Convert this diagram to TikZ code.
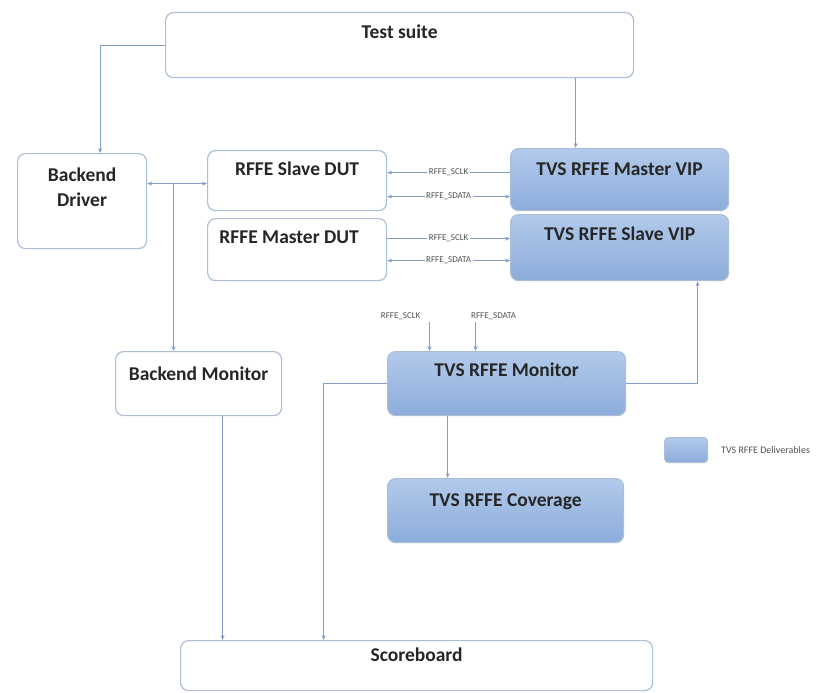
\documentclass[tikz,border=0pt]{standalone}
\usepackage{fontspec}
\setmainfont{Carlito}
\usepackage{xcolor}
\usetikzlibrary{arrows.meta,positioning,calc}
\definecolor{boxline}{RGB}{172,190,216}
\definecolor{wire}{RGB}{128,158,200}
\definecolor{viptop}{RGB}{178,202,235}
\definecolor{vipbot}{RGB}{140,172,218}
\definecolor{ink}{RGB}{38,38,38}
\tikzstyle{env_block} =
  [ rectangle
  , rounded corners=8pt
  , draw=boxline
  , line width=1.2pt
  , fill=white
  , inner sep=0pt
  , anchor=north west
  , text height=25pt
  , text=ink
  , font=\bfseries\fontsize{19.5}{23.5}\selectfont
  ]
\tikzstyle{tvs_block} =
  [ env_block
  , top color=viptop
  , bottom color=vipbot
  ]
\tikzstyle{sig_label} =
  [ fill=white
  , inner sep=1.5pt
  , text=ink!80
  , font=\fontsize{9}{10}\selectfont
  ]
\def\TestSuite{Test suite}
\def\BackendDriver{Backend\\[1.5pt]Driver}
\def\SlaveDUT{RFFE Slave DUT}
\def\MasterDUT{RFFE Master DUT}
\def\MasterVIP{TVS RFFE Master VIP}
\def\SlaveVIP{TVS RFFE Slave VIP}
\def\BackendMonitor{Backend Monitor}
\def\TVSMonitor{TVS RFFE Monitor}
\def\TVSCoverage{TVS RFFE Coverage}
\def\Scoreboard{Scoreboard}
\def\Deliverables{TVS RFFE Deliverables}
\def\SCLK{RFFE\_SCLK}
\def\SDATA{RFFE\_SDATA}

\begin{document}
\begin{tikzpicture}[x=1pt,y=-1pt,>={Stealth[length=5pt,width=4pt]},line width=1pt]
    \useasboundingbox (0,0) rectangle (822,693);

    \node[env_block, minimum width=468, text height=26pt, text depth=39pt]   (TestSuite)  at (165, 12) {\TestSuite};
    \node[env_block, minimum width=129, text height=53pt, text depth=42pt, align=center]
                                                                             (BackendDrv) at ( 17,153) {\BackendDriver};
    \node[env_block, minimum width=179, text depth=35pt]                     (SlaveDUT)   at (207,150) {\SlaveDUT};
    \node[env_block, minimum width=179, text depth=37pt]                     (MasterDUT)  at (207,218) {\hspace*{-16pt}\MasterDUT};
    \node[tvs_block, minimum width=218, text height=26.5pt, text depth=35.5pt] (MasterVIP) at (510,148) {\MasterVIP};
    \node[tvs_block, minimum width=218, text height=25.5pt, text depth=40.5pt] (SlaveVIP)  at (510,214) {\SlaveVIP};
    \node[env_block, minimum width=166, text height=28.5pt, text depth=35.5pt] (BackendMon) at (115,351) {\BackendMonitor};
    \node[tvs_block, minimum width=238, text depth=39pt]                     (TVSMon)     at (387,351) {\TVSMonitor};
    \node[tvs_block, minimum width=236, text height=28pt, text depth=36pt]   (Coverage)   at (387,478) {\TVSCoverage};
    \node[env_block, minimum width=472, text height=21pt, text depth=29pt]   (Scoreboard) at (180,640) {\Scoreboard};

    % legend
    \node[tvs_block, rounded corners=4pt, minimum width=43, text height=0pt, text depth=25pt] (Legend) at (664,437) {};
    \node[sig_label, fill=none, font=\fontsize{10}{11}\selectfont, right=11pt of Legend] (LegendText) {\Deliverables};

    \coordinate (ts_tap)   at ([xshift=-44pt]MasterVIP.north);
    \coordinate (bd_tap)   at ([xshift=-25pt]BackendMon.north);
    \coordinate (sclk_in)  at ([xshift=-77pt]TVSMon.north);
    \coordinate (sdata_in) at ([xshift=-31pt]TVSMon.north);
    \coordinate (mon_out)  at ([xshift=78pt]SlaveVIP.south);
    \coordinate (sb_tap)   at ([xshift=-93pt]Scoreboard.north);
    \coordinate (cov_tap)  at ([xshift=-59pt]TVSMon.south);
    \coordinate (bm_tap)   at ([xshift=24pt]BackendMon.south);

    \node[sig_label, above=29pt of sclk_in,  xshift=-29pt] (SCLK_src)  {\SCLK};
    \node[sig_label, above=29pt of sdata_in, xshift=18pt]  (SDATA_src) {\SDATA};

    \begin{scope}[draw=wire]
    \draw[->] (TestSuite.west) -| ([xshift=18pt]BackendDrv.north);
    \draw[->] (TestSuite.south -| ts_tap) -- (ts_tap);

    \draw[<->] ([yshift=-3pt]BackendDrv.east |- SlaveDUT.west) -- ([yshift=-3pt]SlaveDUT.west);
    \draw[->]  ([yshift=-3pt]bd_tap |- SlaveDUT.west) -- (bd_tap);

    \draw[<-]  ([yshift=8pt]SlaveDUT.east)   -- node[sig_label]{\SCLK}  ([yshift=8pt]SlaveDUT.east -| MasterVIP.west);
    \draw[<->] ([yshift=-16pt]SlaveDUT.east) -- node[sig_label]{\SDATA} ([yshift=-16pt]SlaveDUT.east -| MasterVIP.west);
    \draw[->]  ([yshift=11pt]MasterDUT.east)  -- node[sig_label]{\SCLK}  ([yshift=11pt]MasterDUT.east -| SlaveVIP.west);
    \draw[<->] ([yshift=-11pt]MasterDUT.east) -- node[sig_label]{\SDATA} ([yshift=-11pt]MasterDUT.east -| SlaveVIP.west);

    \draw[->] (sclk_in |- SCLK_src.south)   -- (sclk_in);
    \draw[->] (sdata_in |- SDATA_src.south) -- (sdata_in);

    \draw[->] (TVSMon.east) -| (mon_out);
    \draw[->] (TVSMon.west) -| (sb_tap);
    \draw[->] (cov_tap) -- (cov_tap |- Coverage.north);
    \draw[->] (bm_tap)  -- (bm_tap |- Scoreboard.north);
    \end{scope}
\end{tikzpicture}
\end{document}
